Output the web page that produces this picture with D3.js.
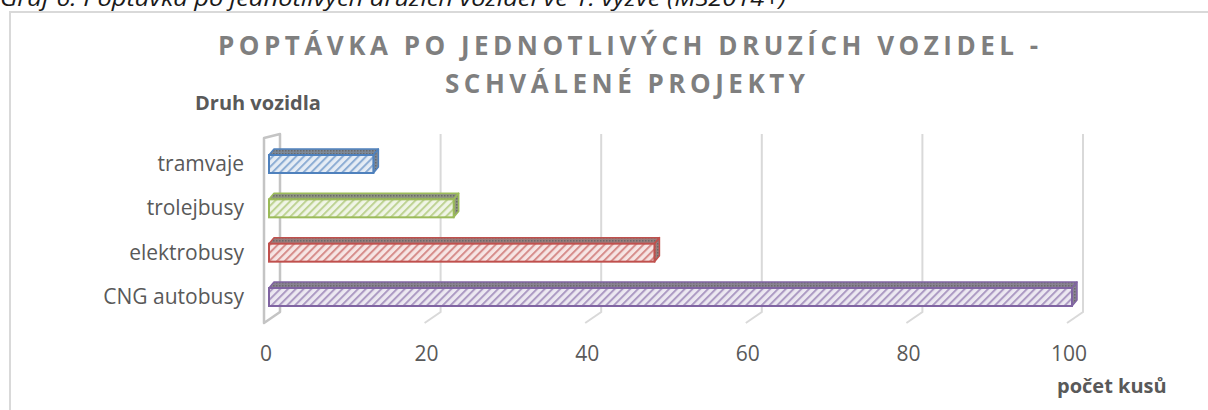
<!DOCTYPE html>
<html>
<head>
<meta charset="utf-8">
<script src="https://cdn.jsdelivr.net/npm/d3@7"></script>
<style>
  body { margin: 0; background: #fff; overflow: hidden; }
  svg { display: block; }
  text { font-family: "Open Sans", sans-serif; }
</style>
</head>
<body>
<div class="container"></div>
<script>
// DATA
const categories = ["tramvaje", "trolejbusy", "elektrobusy", "CNG autobusy"];
const values = [13, 23, 48, 100];
const colors = ["#4f81bd", "#9bbb59", "#c0504d", "#8064a2"];
const tickValues = [0, 20, 40, 60, 80, 100];

const captionText = "Graf 6: Poptávka po jednotlivých druzích vozidel ve 1. výzvě (MS2014+)";
const titleLines = ["POPTÁVKA PO JEDNOTLIVÝCH DRUZÍCH VOZIDEL -", "SCHVÁLENÉ PROJEKTY"];
const yAxisTitle = "Druh vozidla";
const xAxisTitle = "počet kusů";

// SETUP
const width = 1208,
      height = 410;

const svg = d3.select("div.container")
  .append("svg")
  .attr("width", width)
  .attr("height", height);

// 3D offsets: back wall sits up-right of the front floor edge, bars have a small depth
const wall = { dx: 16, dy: -11 };
const depth = { dx: 5, dy: -6 };

// front edge scale (tick labels, floor) and the scale used for the bar fronts
const xFront = d3.scaleLinear().domain([0, 100]).range([264, 1067]);
const xBar = d3.scaleLinear().domain([0, 100]).range([269, 1072]);
const y = d3.scalePoint().domain(categories).range([164, 297]);
const barHeight = 18;

const gridTop = 134;
const floorY = 323;

// patterns for the bar faces
const defs = svg.append("defs");
colors.forEach((c, i) => {
  const hatch = defs.append("pattern")
    .attr("id", `hatch${i}`)
    .attr("patternUnits", "userSpaceOnUse")
    .attr("width", 5.5)
    .attr("height", 5.5)
    .attr("patternTransform", "rotate(45)");
  hatch.append("rect")
    .attr("width", 5.5)
    .attr("height", 5.5)
    .attr("fill", d3.interpolateRgb(c, "#fff")(0.85));
  hatch.append("rect")
    .attr("width", 2)
    .attr("height", 5.5)
    .attr("fill", d3.interpolateRgb(c, "#fff")(0.35));

  const dots = defs.append("pattern")
    .attr("id", `dots${i}`)
    .attr("patternUnits", "userSpaceOnUse")
    .attr("width", 3)
    .attr("height", 3);
  dots.append("rect")
    .attr("width", 3)
    .attr("height", 3)
    .attr("fill", d3.interpolateRgb(c, "#8c8c8c")(0.75));
  dots.append("rect")
    .attr("width", 1.5)
    .attr("height", 1.5)
    .attr("fill", "#6a6a6a");
});

// caption above the chart (its top is cut by the edge of the picture, as in the source)
svg.append("text")
  .attr("x", 0)
  .attr("y", 6)
  .attr("textLength", 786)
  .attr("lengthAdjust", "spacingAndGlyphs")
  .style("font-style", "italic")
  .style("font-size", "22px")
  .attr("fill", "#1a1a1a")
  .text(captionText);

// chart frame
svg.append("rect")
  .attr("x", 10)
  .attr("y", 12)
  .attr("width", 1220)
  .attr("height", 420)
  .attr("fill", "#fff")
  .attr("stroke", "#d9d9d9")
  .attr("stroke-width", 2);

// title
const title = svg.append("g")
  .attr("fill", "#7f7f7f")
  .style("font-size", "26px")
  .style("font-weight", "bold");

title.append("text")
  .attr("x", 218)
  .attr("y", 55)
  .attr("textLength", 820)
  .attr("lengthAdjust", "spacing")
  .text(titleLines[0]);

title.append("text")
  .attr("x", 445)
  .attr("y", 93)
  .attr("textLength", 360)
  .attr("lengthAdjust", "spacing")
  .text(titleLines[1]);

// axis titles
svg.append("text")
  .attr("x", 195)
  .attr("y", 110)
  .attr("fill", "#595959")
  .style("font-size", "20px")
  .style("font-weight", "bold")
  .text(yAxisTitle);

svg.append("text")
  .attr("x", 1057)
  .attr("y", 393)
  .attr("fill", "#595959")
  .style("font-size", "20px")
  .style("font-weight", "bold")
  .text(xAxisTitle);

// gridlines on the back wall, with a short slant down to the floor edge
const grid = svg.append("g").attr("class", "grid");

grid.selectAll("path")
  .data(tickValues.slice(1))
  .enter()
  .append("path")
  .attr("d", (d) => {
    const xb = xFront(d) + wall.dx;
    return `M${xb},${gridTop} L${xb},${floorY + wall.dy} L${xFront(d)},${floorY}`;
  })
  .attr("fill", "none")
  .attr("stroke", "#d9d9d9")
  .attr("stroke-width", 2);

// left side wall
const x0 = xFront(0);
svg.append("path")
  .attr("d", `M${x0},${floorY} L${x0},${gridTop + 4} L${x0 + wall.dx},${gridTop} L${x0 + wall.dx},${floorY + wall.dy} Z`)
  .attr("fill", "none")
  .attr("stroke", "#c4c4c4")
  .attr("stroke-width", 2.5)
  .attr("stroke-linejoin", "round");

// tick labels
svg.append("g")
  .selectAll("text")
  .data(tickValues)
  .enter()
  .append("text")
  .attr("x", (d) => xFront(d) + 2)
  .attr("y", 361)
  .attr("text-anchor", "middle")
  .attr("fill", "#595959")
  .style("font-size", "21px")
  .text((d) => d);

// category labels
svg.append("g")
  .selectAll("text")
  .data(categories)
  .enter()
  .append("text")
  .attr("x", 244)
  .attr("y", (d) => y(d) + 7)
  .attr("text-anchor", "end")
  .attr("fill", "#595959")
  .style("font-size", "21px")
  .text((d) => d);

// 3D bars
const bars = svg.append("g")
  .selectAll("g")
  .data(categories)
  .enter()
  .append("g");

bars.each(function (d, i) {
  const g = d3.select(this);
  const left = xBar(0),
        right = xBar(values[i]),
        top = y(d) - barHeight / 2,
        bottom = y(d) + barHeight / 2;
  const c = colors[i];

  // top face
  g.append("path")
    .attr("d", `M${left},${top} L${left + depth.dx},${top + depth.dy} L${right + depth.dx},${top + depth.dy} L${right},${top} Z`)
    .attr("fill", `url(#dots${i})`)
    .attr("stroke", c)
    .attr("stroke-width", 1.5)
    .attr("stroke-linejoin", "round");

  // side face
  g.append("path")
    .attr("d", `M${right},${top} L${right + depth.dx},${top + depth.dy} L${right + depth.dx},${bottom + depth.dy} L${right},${bottom} Z`)
    .attr("fill", `url(#dots${i})`)
    .attr("stroke", c)
    .attr("stroke-width", 1.5)
    .attr("stroke-linejoin", "round");

  // front face
  g.append("rect")
    .attr("x", left)
    .attr("y", top)
    .attr("width", right - left)
    .attr("height", barHeight)
    .attr("fill", `url(#hatch${i})`)
    .attr("stroke", c)
    .attr("stroke-width", 2);
});
</script>
</body>
</html>
